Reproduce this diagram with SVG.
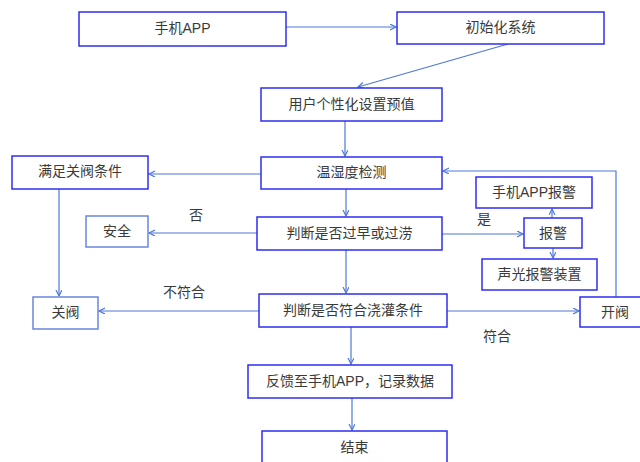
<svg xmlns="http://www.w3.org/2000/svg" width="640" height="462" viewBox="0 0 640 462">
<defs>
<style>
.box{fill:#ffffff;stroke:#2e2ef2;stroke-width:1.5}
.lite{fill:#ffffff;stroke:#6a86e0;stroke-width:1.5}
.t{font-family:"Liberation Sans","Noto Sans CJK SC",sans-serif;font-size:14px;fill:#3a3a3a;text-anchor:middle;dominant-baseline:central}
.c{fill:none;stroke:#4f78d8;stroke-width:1.2}
</style>
<marker id="ah" markerWidth="8" markerHeight="8" refX="6" refY="3" orient="auto" markerUnits="userSpaceOnUse">
<path d="M0,0 L6,3 L0,6" fill="none" stroke="#4f78d8" stroke-width="1.2"/>
</marker>
</defs>
<rect width="640" height="462" fill="#ffffff"/>
<g id="connectors">
<path class="c" d="M286,27 L396,27" marker-end="url(#ah)"/>
<path class="c" d="M508,44 L358,87" marker-end="url(#ah)"/>
<path class="c" d="M345,121 L345,156" marker-end="url(#ah)"/>
<path class="c" d="M616,297 L616,171 L443,171" marker-end="url(#ah)"/>
<path class="c" d="M261,174 L149,174" marker-end="url(#ah)"/>
<path class="c" d="M59,189 L59,296" marker-end="url(#ah)"/>
<path class="c" d="M346,189 L346,216" marker-end="url(#ah)"/>
<path class="c" d="M257,233 L149,233" marker-end="url(#ah)"/>
<path class="c" d="M442,234 L523,234" marker-end="url(#ah)"/>
<path class="c" d="M552,218 L552,209" marker-end="url(#ah)"/>
<path class="c" d="M553,248 L553,258" marker-end="url(#ah)"/>
<path class="c" d="M346,250 L346,293" marker-end="url(#ah)"/>
<path class="c" d="M259,311 L99,311" marker-end="url(#ah)"/>
<path class="c" d="M447,311 L579,311" marker-end="url(#ah)"/>
<path class="c" d="M351,327 L351,364" marker-end="url(#ah)"/>
<path class="c" d="M352,398 L352,430" marker-end="url(#ah)"/>
</g>
<g id="labels">
<text class="t" x="196" y="215">否</text>
<text class="t" x="484" y="219">是</text>
<text class="t" x="184" y="292">不符合</text>
<text class="t" x="497" y="336">符合</text>
</g>
<g id="n1"><rect class="box" x="79" y="12" width="207" height="34"/><text class="t" x="182.5" y="28">手机APP</text></g>
<g id="n2"><rect class="box" x="397" y="12" width="207" height="32"/><text class="t" x="500.5" y="27">初始化系统</text></g>
<g id="n3"><rect class="box" x="261" y="88" width="181" height="33"/><text class="t" x="351.5" y="104">用户个性化设置预值</text></g>
<g id="n4"><rect class="box" x="261" y="157" width="181" height="32"/><text class="t" x="351.5" y="172">温湿度检测</text></g>
<g id="n5"><rect class="box" x="12" y="156" width="136" height="33"/><text class="t" x="80" y="171">满足关阀条件</text></g>
<g id="n6"><rect class="lite" x="86" y="216" width="62" height="31"/><text class="t" x="117" y="231">安全</text></g>
<g id="n7"><rect class="box" x="257" y="217" width="185" height="33"/><text class="t" x="349.5" y="233">判断是否过早或过涝</text></g>
<g id="n8"><rect class="box" x="476" y="177" width="116" height="31"/><text class="t" x="534" y="192">手机APP报警</text></g>
<g id="n9"><rect class="box" x="524" y="218" width="58" height="30"/><text class="t" x="553" y="233">报警</text></g>
<g id="n10"><rect class="box" x="482" y="259" width="115" height="31"/><text class="t" x="539.5" y="274">声光报警装置</text></g>
<g id="n11"><rect class="lite" x="33" y="297" width="65" height="32"/><text class="t" x="65.5" y="312">关阀</text></g>
<g id="n12"><rect class="box" x="259" y="294" width="188" height="33"/><text class="t" x="353" y="310">判断是否符合浇灌条件</text></g>
<g id="n13"><rect class="box" x="580" y="297" width="64" height="30"/><text class="t" x="615" y="312">开阀</text></g>
<g id="n14"><rect class="box" x="248" y="365" width="204" height="33"/><text class="t" x="350" y="381">反馈至手机APP，记录数据</text></g>
<g id="n15"><rect class="box" x="262" y="431" width="185" height="40"/><text class="t" x="354.5" y="447">结束</text></g>
</svg>
